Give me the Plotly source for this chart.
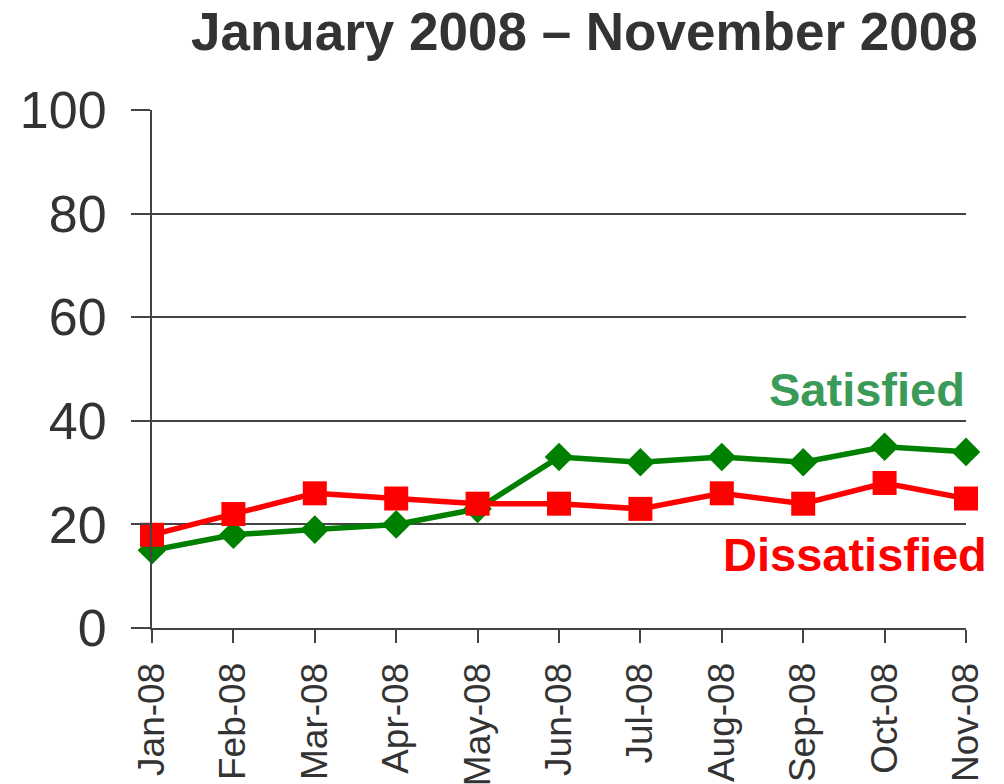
import plotly.graph_objects as go

# Monthly survey results, Jan-Nov 2008
months = ["Jan-08", "Feb-08", "Mar-08", "Apr-08", "May-08", "Jun-08",
          "Jul-08", "Aug-08", "Sep-08", "Oct-08", "Nov-08"]
satisfied = [15, 18, 19, 20, 23, 33, 32, 33, 32, 35, 34]
dissatisfied = [18, 22, 26, 25, 24, 24, 23, 26, 24, 28, 25]
y_ticks = [0, 20, 40, 60, 80, 100]

font_family = "Liberation Sans, Arial, sans-serif"
axis_grey = "#444444"
text_grey = "#333333"

fig = go.Figure()

fig.add_trace(
    go.Scatter(
        x=months,
        y=satisfied,
        mode="lines+markers",
        name="Satisfied",
        line=dict(color="#008000", width=5.5),
        marker=dict(symbol="diamond", size=22, color="#008000"),
        cliponaxis=False,
    )
)

fig.add_trace(
    go.Scatter(
        x=months,
        y=dissatisfied,
        mode="lines+markers",
        name="Dissatisfied",
        line=dict(color="#ff0000", width=5.5),
        marker=dict(symbol="square", size=24, color="#ff0000"),
        cliponaxis=False,
    )
)

# Title and direct series labels
fig.add_annotation(
    text="<b>January 2008 – November 2008</b>",
    xref="paper", yref="paper", x=1.0172, y=1.1525,
    xanchor="right", yanchor="middle", showarrow=False,
    font=dict(size=53, color=text_grey, family=font_family),
)
fig.add_annotation(
    text="<b>Satisfied</b>",
    xref="paper", yref="y", x=1.0012, y=46.0,
    xanchor="right", yanchor="middle", showarrow=False,
    font=dict(size=47, color="#3a9a58", family=font_family),
)
fig.add_annotation(
    text="<b>Dissatisfied</b>",
    xref="paper", yref="y", x=1.0285, y=14.2,
    xanchor="right", yanchor="middle", showarrow=False,
    font=dict(size=47, color="#ff0000", family=font_family),
)

# page body has an 8px margin, so size the figure to fit inside the window
fig.update_layout(
    width=996,
    height=776,
    margin=dict(l=144, r=38, t=102, b=156),
    plot_bgcolor="white",
    paper_bgcolor="white",
    showlegend=False,
    font=dict(family=font_family, color=text_grey),
)

fig.update_xaxes(
    type="category",
    range=[0, len(months) - 1],
    automargin=False,
    showline=True,
    linecolor=axis_grey,
    linewidth=2,
    ticks="outside",
    ticklen=13,
    tickwidth=2,
    tickcolor=axis_grey,
    tickangle=-90,
    ticklabelstandoff=5,
    tickfont=dict(size=37, color=text_grey),
    showgrid=False,
)

fig.update_yaxes(
    range=[0, 100],
    tickvals=y_ticks,
    automargin=False,
    showline=True,
    linecolor=axis_grey,
    linewidth=2,
    ticks="outside",
    ticklen=19,
    tickwidth=2,
    tickcolor=axis_grey,
    ticklabelstandoff=14,
    tickfont=dict(size=52, color=text_grey),
    showgrid=True,
    gridcolor=axis_grey,
    gridwidth=1.5,
    zeroline=False,
)

fig.write_html("out.html")
